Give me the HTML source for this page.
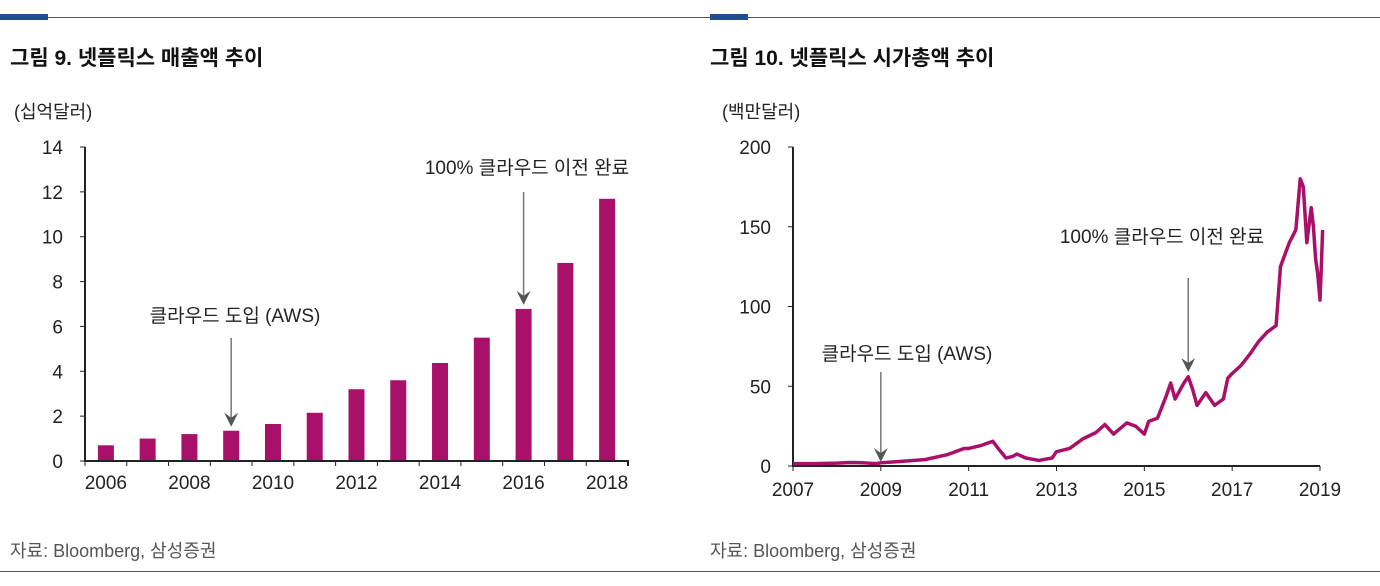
<!DOCTYPE html>
<html><head><meta charset="utf-8"><style>
body{margin:0;width:1380px;height:586px;background:#fff;font-family:"Liberation Sans","Noto Sans CJK KR",sans-serif;position:relative;overflow:hidden}
.t{position:absolute;white-space:nowrap}
</style></head><body>
<div style="position:absolute;left:0;top:17px;width:1380px;height:1px;background:#555"></div>
<div style="position:absolute;left:0;top:14px;width:48px;height:6px;background:#1f4e96"></div>
<div style="position:absolute;left:710px;top:14px;width:38px;height:6px;background:#1f4e96"></div>
<div class="t" style="left:10px;top:42px;font-size:21px;font-weight:bold;color:#111">그림 9. 넷플릭스 매출액 추이</div>
<div class="t" style="left:710px;top:42px;font-size:21px;font-weight:bold;color:#111">그림 10. 넷플릭스 시가총액 추이</div>
<div class="t" style="left:14px;top:98px;font-size:18px;color:#222">(십억달러)</div>
<div class="t" style="left:722px;top:98px;font-size:18px;color:#222">(백만달러)</div>
<div class="t" style="left:10px;top:537px;font-size:18px;color:#555">자료: Bloomberg, 삼성증권</div>
<div class="t" style="left:710px;top:537px;font-size:18px;color:#555">자료: Bloomberg, 삼성증권</div>
<div style="position:absolute;left:0;top:571px;width:1380px;height:1px;background:#555"></div>
<svg id="c1" width="700" height="520" style="position:absolute;left:0;top:0" font-family="Liberation Sans, Noto Sans CJK KR, sans-serif"></svg>
<svg id="c2" width="680" height="520" style="position:absolute;left:700px;top:0" font-family="Liberation Sans, Noto Sans CJK KR, sans-serif"></svg>
<script>
const revYears=[2006,2007,2008,2009,2010,2011,2012,2013,2014,2015,2016,2017,2018];
const revValues=[0.7,1.0,1.2,1.35,1.65,2.15,3.2,3.6,4.37,5.5,6.78,8.83,11.69];
const revTicks=[0,2,4,6,8,10,12,14];
const capDates=[2007.0,2007.5,2008.0,2008.3,2008.6,2008.9,2009.0,2009.5,2010.0,2010.5,2010.9,2011.0,2011.3,2011.55,2011.7,2011.85,2012.0,2012.1,2012.3,2012.6,2012.9,2013.0,2013.3,2013.6,2013.9,2014.1,2014.3,2014.6,2014.8,2015.0,2015.1,2015.3,2015.5,2015.6,2015.7,2015.9,2016.0,2016.1,2016.2,2016.4,2016.6,2016.8,2016.9,2017.0,2017.2,2017.4,2017.6,2017.8,2018.0,2018.1,2018.3,2018.45,2018.55,2018.62,2018.7,2018.8,2018.85,2018.9,2018.95,2019.0,2019.03,2019.06];
const capValues=[1.5,1.5,1.8,2.2,2.0,1.5,2,3,4,7,11,11,13,15.5,10,5,6,7.5,5,3.5,5,9,11,17,21,26,20,27,25,20,28,30,44,52,42,52,56,48,38,46,38,42,55,58,63,70,78,84,88,125,140,148,180,175,140,162,150,130,120,104,125,148];
const capTicks=[0,50,100,150,200];
const capYearTicks=[2007,2009,2011,2013,2015,2017,2019];
const NS='http://www.w3.org/2000/svg';
function mk(svg,tag,attrs,text){const e=document.createElementNS(NS,tag);for(const k in attrs)e.setAttribute(k,attrs[k]);if(text!==undefined)e.textContent=text;svg.appendChild(e);return e;}
(function(){
const s=document.getElementById('c1');
const x0=85,x1=628,y0=461,y1=147;
const n=revYears.length,step=(x1-x0)/n;
const Y=v=>y0-(v/14)*(y0-y1);
const X=i=>x0+step*(i+0.5);
revTicks.forEach(v=>{
 const tk=mk(s,'line',{x1:x0-5,x2:x0,y1:Y(v),y2:Y(v),stroke:'#222'});
 
 const t=mk(s,'text',{x:x0-22,y:Y(v)+7,'text-anchor':'end','font-size':19,fill:'#222'},v);
 
});
revValues.forEach((v,i)=>{
 const b=mk(s,'rect',{x:X(i)-8,y:Y(v),width:16,height:y0-Y(v),fill:'#a8106a'});
 
});
for(let i=0;i<=n;i++){const tk=mk(s,'line',{x1:x0+step*i,x2:x0+step*i,y1:y0,y2:y0+5,stroke:'#222'});}
revYears.forEach((yr,i)=>{if(i%2==0){const t=mk(s,'text',{x:X(i),y:y0+28,'text-anchor':'middle','font-size':19,fill:'#222'},yr);}});
const ax=mk(s,'path',{d:`M${x0} ${y1} V${y0} H${x1} V${y0+5}`,stroke:'#222','stroke-width':2,fill:'none'});

const a1=mk(s,'text',{x:235,y:322,'text-anchor':'middle','font-size':19,fill:'#222'},'클라우드 도입 (AWS)');

const a2=mk(s,'text',{x:527,y:174,'text-anchor':'middle','font-size':19,fill:'#222'},'100% 클라우드 이전 완료');

[[X(3),338,Y(revValues[3])-4],[X(10),192,Y(revValues[10])-4]].forEach(([x,ya,yb])=>{
 const l=mk(s,'line',{x1:x,x2:x,y1:ya,y2:yb-8,stroke:'#777','stroke-width':1.5});
 const p=mk(s,'path',{d:`M${x-7} ${yb-14} L${x} ${yb} L${x+7} ${yb-14} L${x} ${yb-9}Z`,fill:'#555'});
});
})();
(function(){
const s=document.getElementById('c2');
const x0=93,x1=620,y0=466,y1=147;
const X=d=>x0+(d-2007)/12*(x1-x0);
const Y=v=>y0-(v/200)*(y0-y1);
capTicks.forEach(v=>{
 const tk=mk(s,'line',{x1:x0-5,x2:x0,y1:Y(v),y2:Y(v),stroke:'#222'});
 const t=mk(s,'text',{x:x0-22,y:Y(v)+7,'text-anchor':'end','font-size':19,fill:'#222'},v);
});
capYearTicks.forEach(yr=>{
 const tk=mk(s,'line',{x1:X(yr),x2:X(yr),y1:y0,y2:y0+5,stroke:'#222'});
 const t=mk(s,'text',{x:X(yr),y:y0+30,'text-anchor':'middle','font-size':19,fill:'#222'},yr);
});
const ax=mk(s,'path',{d:`M${x0} ${y1} V${y0} H${x1}`,stroke:'#222','stroke-width':2,fill:'none'});
const ln=mk(s,'polyline',{points:capDates.map((d,i)=>X(d)+','+Y(capValues[i])).join(' '),stroke:'#a8106a','stroke-width':3.5,fill:'none','stroke-linejoin':'round'});

const a1=mk(s,'text',{x:207,y:360,'text-anchor':'middle','font-size':19,fill:'#222'},'클라우드 도입 (AWS)');
const a2=mk(s,'text',{x:462,y:243,'text-anchor':'middle','font-size':19,fill:'#222'},'100% 클라우드 이전 완료');
[[X(2009),372,462],[X(2016),278,372]].forEach(([x,ya,yb])=>{
 const l=mk(s,'line',{x1:x,x2:x,y1:ya,y2:yb-8,stroke:'#777','stroke-width':1.5});
 const p=mk(s,'path',{d:`M${x-7} ${yb-14} L${x} ${yb} L${x+7} ${yb-14} L${x} ${yb-9}Z`,fill:'#555'});
});
})();
</script>
</body></html>
